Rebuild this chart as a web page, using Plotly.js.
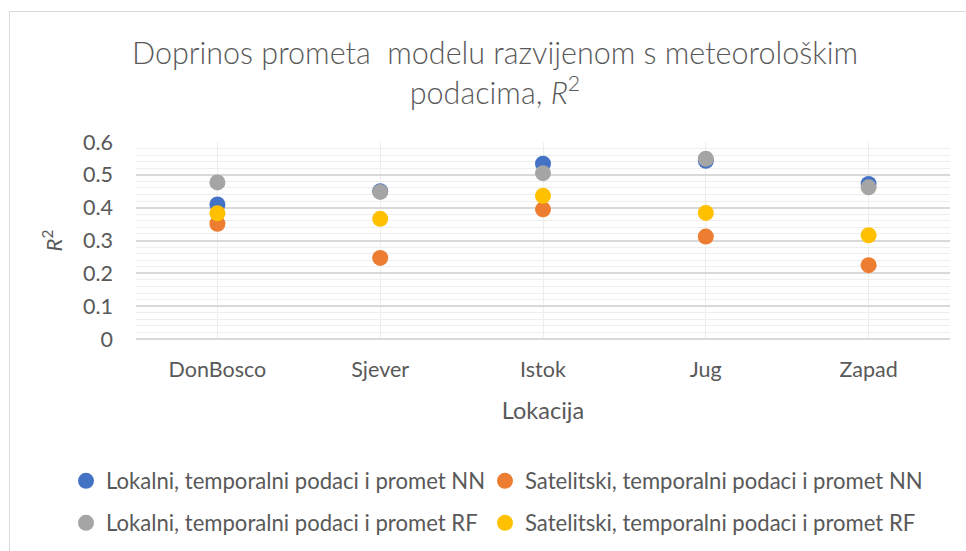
<!DOCTYPE html>
<html>
<head>
<meta charset="utf-8">
<script src="https://cdn.plot.ly/plotly-3.0.1.min.js"></script>
<style>
  html, body { margin: 0; padding: 0; background: #ffffff; }
  #wrap { position: relative; width: 966px; height: 551px; overflow: hidden; }
  #chart { position: absolute; left: 0; top: 0; width: 966px; height: 551px; }
  #frame { position: absolute; left: 9px; top: 11px; width: 970px; height: 560px;
           border: 1px solid #d9d9d9; pointer-events: none; box-sizing: border-box; }
</style>
</head>
<body>
<div id="wrap">
  <div id="chart"></div>
  <div id="frame"></div>
</div>
<script>
// ---- data ----
const categories = ["DonBosco", "Sjever", "Istok", "Jug", "Zapad"];
const lokalniNN   = [0.41, 0.45, 0.534, 0.543, 0.472];
const satelitskiNN = [0.351, 0.247, 0.395, 0.312, 0.225];
const lokalniRF   = [0.477, 0.448, 0.505, 0.549, 0.462];
const satelitskiRF = [0.383, 0.366, 0.436, 0.384, 0.316];
const seriesNames = [
  "Lokalni, temporalni podaci i promet NN",
  "Satelitski, temporalni podaci i promet NN",
  "Lokalni, temporalni podaci i promet RF",
  "Satelitski, temporalni podaci i promet RF"
];
const yTicks = [0, 0.1, 0.2, 0.3, 0.4, 0.5, 0.6];
const yTickText = ["0", "0.1", "0.2", "0.3", "0.4", "0.5", "0.6"];

const colors = ["#4472C4", "#ED7D31", "#A5A5A5", "#FFC000"];
const values = [lokalniNN, satelitskiNN, lokalniRF, satelitskiRF];
const legendIds = ["legend", "legend2", "legend3", "legend4"];

const FONT = "Lato, 'Open Sans', sans-serif";
const TXT = "#595959";

const traces = values.map((v, i) => ({
  type: "scatter",
  mode: "markers",
  x: categories,
  y: v,
  name: seriesNames[i],
  legend: legendIds[i],
  marker: { color: colors[i], size: 16, line: { width: 0 } },
  cliponaxis: false,
  hoverinfo: "x+y+name"
}));

const W = 966, H = 551;
function legendAt(px, py) {
  return {
    orientation: "h",
    xref: "container",
    yref: "container",
    xanchor: "left",
    yanchor: "middle",
    x: px / W,
    y: 1 - py / H,
    font: { family: FONT, size: 22.1, color: TXT },
    bgcolor: "rgba(0,0,0,0)",
    itemclick: false,
    itemdoubleclick: false
  };
}

const layout = {
  width: W,
  height: H,
  paper_bgcolor: "#ffffff",
  plot_bgcolor: "#ffffff",
  margin: { l: 136, r: 16, t: 142, b: 212, autoexpand: false },
  font: { family: FONT, color: TXT },
  title: {
    text: "Doprinos prometa  modelu razvijenom s meteorološkim<br>podacima, <i>R</i><sup>2</sup>",
    font: { family: FONT, size: 30.5, color: TXT, weight: 300 },
    x: 495 / W, xanchor: "center",
    xref: "container", yref: "container",
    y: 1 - 64 / H, yanchor: "top"
  },
  xaxis: {
    type: "category",
    categoryorder: "array",
    categoryarray: categories,
    range: [-0.5, 4.5],
    showgrid: true,
    gridcolor: "#eeeeee",
    gridwidth: 1,
    showline: false,
    zeroline: false,
    ticks: "",
    ticklabelstandoff: 15,
    tickfont: { family: FONT, size: 21.5, color: TXT },
    title: { text: "Lokacija", font: { family: FONT, size: 23.5, color: TXT }, standoff: 22 },
    fixedrange: true
  },
  xaxis2: {
    type: "category",
    categoryorder: "array",
    categoryarray: categories,
    range: [-0.5, 4.5],
    overlaying: "x",
    tickson: "boundaries",
    showgrid: true,
    gridcolor: "#e6e6e6",
    gridwidth: 1.5,
    showticklabels: false,
    ticks: "",
    showline: false,
    zeroline: false,
    fixedrange: true
  },
  yaxis: {
    range: [0, 0.6],
    tickvals: yTicks,
    ticktext: yTickText,
    showgrid: true,
    gridcolor: "#d9d9d9",
    gridwidth: 1.5,
    zeroline: true,
    zerolinecolor: "#d9d9d9",
    zerolinewidth: 1.5,
    showline: false,
    ticks: "",
    ticklabelstandoff: 22,
    tickfont: { family: FONT, size: 21.5, color: TXT },
    minor: { dtick: 0.02, tick0: 0, showgrid: true, gridcolor: "#eeeeee", gridwidth: 1 },
    title: { text: "<i>R</i><sup>2</sup>", font: { family: FONT, size: 22, color: TXT }, standoff: 14 },
    fixedrange: true
  },
  legend: legendAt(66, 481),
  legend2: legendAt(485, 481),
  legend3: legendAt(66, 523),
  legend4: legendAt(485, 523),
  showlegend: true
};

Plotly.newPlot("chart", traces, layout, { displayModeBar: false, staticPlot: false });
</script>
</body>
</html>
